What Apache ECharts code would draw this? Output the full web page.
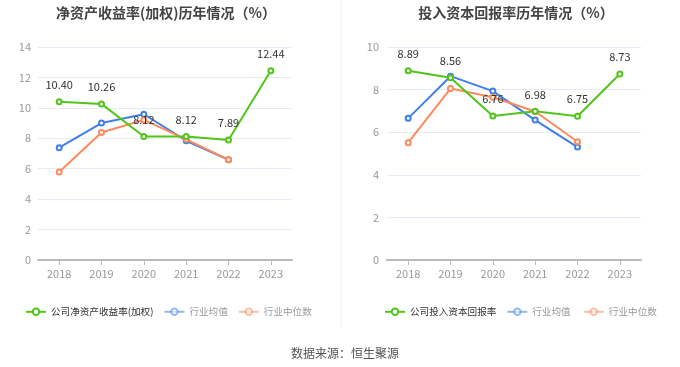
<!DOCTYPE html>
<html><head><meta charset="utf-8">
<script src="https://cdn.jsdelivr.net/npm/echarts@6/dist/echarts.min.js"></script>
<style>html,body{margin:0;padding:0;background:#fff}#c{width:680px;height:367px}</style>
</head><body><div id="c"></div>
<script>
var years = ['2018','2019','2020','2021','2022','2023'];
var roeCompany = [10.40, 10.26, 8.12, 8.12, 7.89, 12.44];
var roeIndustryAvg = [7.38, 9.00, 9.58, 7.84, 6.59, null];
var roeIndustryMedian = [5.79, 8.38, 9.21, 7.93, 6.59, null];
var roicCompany = [8.89, 8.56, 6.76, 6.98, 6.75, 8.73];
var roicIndustryAvg = [6.65, 8.63, 7.93, 6.57, 5.30, null];
var roicIndustryMedian = [5.51, 8.05, 7.64, 6.97, 5.55, null];
var leftTicks = {min:0, max:14, interval:2};
var rightTicks = {min:0, max:10, interval:2};

var GREEN = '#52c41a', BLUE = '#3f7fe8', ORANGE = '#fc8a5c';
var chart = echarts.init(document.getElementById('c'));
var font = 'Noto Sans CJK SC, sans-serif';
function xAxis(i){return {type:'category',gridIndex:i,data:years,boundaryGap:true,
  axisLine:{lineStyle:{color:'#bbb',width:2}},axisTick:{show:true,alignWithLabel:true,lineStyle:{color:'#bbb'}},
  axisLabel:{color:'#999',fontSize:11,margin:8,fontFamily:font}};}
function yAxis(i,t,m){return {type:'value',gridIndex:i,min:t.min,max:t.max,interval:t.interval,
  axisLine:{show:false},axisTick:{show:false},axisLabel:{color:'#999',fontSize:11,margin:m,fontFamily:font},
  splitLine:{lineStyle:{color:'#e6ebf5'}}};}
function line(name,data,color,i,label){return {name:name,type:'line',xAxisIndex:i,yAxisIndex:i,data:data,
  symbol:'emptyCircle',symbolSize:5,lineStyle:{color:color,width:2},itemStyle:{color:color,borderWidth:1.5},
  label:{show:!!label,position:'top',distance:8,color:'#333',fontSize:11,fontFamily:font,formatter:function(p){return p.value.toFixed(2);}},
  z:label?3:2};}
function legendItems(arr){return arr.map(function(n,k){
  if(k===0) return {name:n,textStyle:{color:'#333'}};
  return {name:n,textStyle:{color:'#999'},itemStyle:{opacity:0.55},lineStyle:{opacity:0.55}};});}

chart.setOption({
  animation:false,
  title:[
    {text:'净资产收益率(加权)历年情况（%）',left:161,top:1,textAlign:'center',textStyle:{fontSize:14,fontWeight:'bold',color:'#444',fontFamily:font}},
    {text:'投入资本回报率历年情况（%）',left:511,top:1,textAlign:'center',textStyle:{fontSize:14,fontWeight:'bold',color:'#444',fontFamily:font}},
    {text:'数据来源：恒生聚源',left:340,top:342,textAlign:'center',textStyle:{fontSize:12,fontWeight:'normal',color:'#555',fontFamily:font}}
  ],
  grid:[{left:38,width:254,top:47,height:213},{left:387,width:254,top:47,height:213}],
  xAxis:[xAxis(0),xAxis(1)],
  yAxis:[yAxis(0,leftTicks,7),yAxis(1,rightTicks,8)],
  legend:[
    {left:20,top:302,width:320,itemWidth:20,itemHeight:8,itemGap:10,textStyle:{fontSize:9.6,fontFamily:font},
     data:legendItems(['公司净资产收益率(加权)','行业均值','行业中位数'])},
    {left:379,top:302,width:298,itemWidth:20,itemHeight:8,itemGap:10,textStyle:{fontSize:9.6,fontFamily:font},
     data:legendItems(['公司投入资本回报率','行业均值 ','行业中位数 '])}
  ],
  graphic:[{type:'line',shape:{x1:341,y1:0,x2:341,y2:328},style:{stroke:'#eee',lineWidth:1}}],
  series:[
    line('行业均值',roeIndustryAvg,BLUE,0,false),
    line('行业中位数',roeIndustryMedian,ORANGE,0,false),
    line('公司净资产收益率(加权)',roeCompany,GREEN,0,true),
    line('行业均值 ',roicIndustryAvg,BLUE,1,false),
    line('行业中位数 ',roicIndustryMedian,ORANGE,1,false),
    line('公司投入资本回报率',roicCompany,GREEN,1,true)
  ]
});
</script></body></html>
